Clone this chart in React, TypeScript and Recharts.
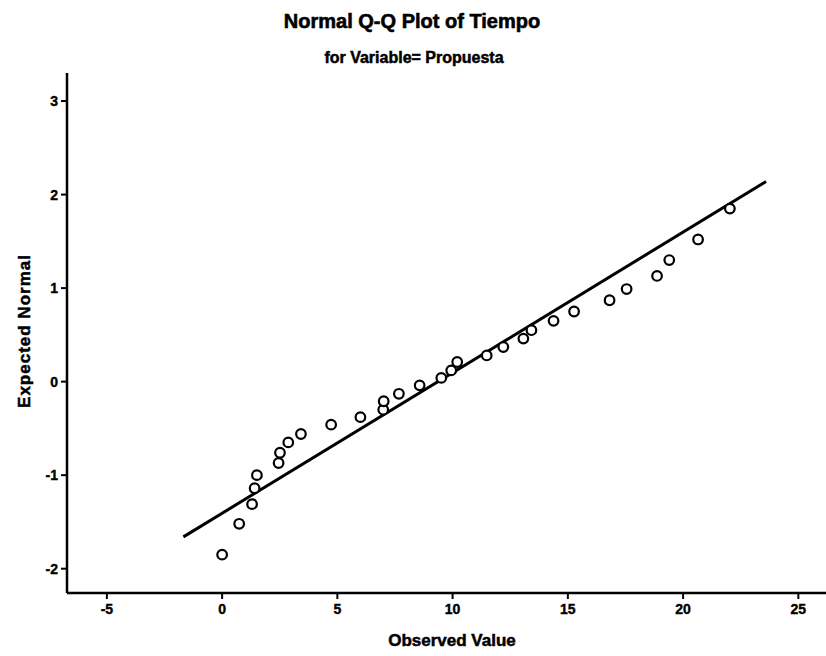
import React from 'react';
import { ScatterChart, Scatter, XAxis, YAxis } from 'recharts';

// observed values (x) and expected normal quantiles (y)
const observed = [
  0, 0.74, 1.3, 1.41, 1.51, 2.45, 2.51, 2.87, 3.42, 4.73, 6.0, 6.99, 7.01, 7.67, 8.57,
  9.51, 9.94, 10.2, 11.48, 12.2, 13.07, 13.42, 14.38, 15.27, 16.81, 17.55, 18.87, 19.4, 20.65, 22.03,
];
const expected = [
  -1.85, -1.52, -1.31, -1.14, -1.0, -0.87, -0.76, -0.65, -0.56, -0.46, -0.38, -0.3, -0.21, -0.13, -0.04,
  0.04, 0.12, 0.21, 0.28, 0.37, 0.46, 0.55, 0.65, 0.75, 0.87, 0.99, 1.13, 1.3, 1.52, 1.85,
];

// reference line end points
const lineX = [-1.68, 23.6];
const lineY = [-1.66, 2.14];

const xTicks = [-5, 0, 5, 10, 15, 20, 25];
const yTicks = [-2, -1, 0, 1, 2, 3];

const points = observed.map((x, i) => ({ x, y: expected[i] }));
const fitLine = lineX.map((x, i) => ({ x, y: lineY[i] }));

const FONT = '"Liberation Sans", Arial, sans-serif';

const tickStyle = {
  fill: '#000',
  stroke: '#000',
  strokeWidth: 0.4,
  fontSize: 14,
  fontWeight: 700,
  fontFamily: FONT,
};

const OpenCircle = (props: any) => {
  const { cx, cy } = props;
  if (cx == null || cy == null) return <g />;
  return <circle cx={cx} cy={cy} r={4.8} fill="#fff" stroke="#000" strokeWidth={2.2} />;
};

const NoDot = () => <g />;

const App = () => {
  return (
    <div style={{ position: 'absolute', left: 0, top: 0, width: 826, height: 656, background: '#fff' }}>
      <ScatterChart width={826} height={656} margin={{ top: 73, right: 0, bottom: 0, left: 0 }}>
        <XAxis
          xAxisId="top"
          orientation="top"
          type="number"
          dataKey="x"
          domain={[-6.73, 26.2]}
          allowDataOverflow
          height={0}
          tick={false}
          tickLine={false}
          axisLine={{ stroke: '#000', strokeWidth: 2 }}
        />
        <XAxis
          type="number"
          dataKey="x"
          domain={[-6.73, 26.2]}
          ticks={xTicks}
          allowDataOverflow
          height={63}
          tick={tickStyle}
          tickSize={6}
          tickMargin={5}
          tickLine={{ stroke: '#000', strokeWidth: 2 }}
          axisLine={{ stroke: '#000', strokeWidth: 2.5 }}
        />
        <YAxis
          type="number"
          dataKey="y"
          domain={[-2.26, 3.3]}
          ticks={yTicks}
          allowDataOverflow
          width={67}
          tick={tickStyle}
          tickSize={6}
          tickMargin={3}
          tickLine={{ stroke: '#000', strokeWidth: 2 }}
          axisLine={{ stroke: '#000', strokeWidth: 2.5 }}
        />
        <Scatter
          data={fitLine}
          line={{ stroke: '#000', strokeWidth: 3 }}
          shape={NoDot}
          isAnimationActive={false}
        />
        <Scatter data={points} shape={OpenCircle} isAnimationActive={false} />
      </ScatterChart>
      <svg
        width={826}
        height={656}
        style={{ position: 'absolute', left: 0, top: 0, pointerEvents: 'none' }}
      >
        <text x={412} y={28} textAnchor="middle" fontFamily={FONT} fontWeight={700} fontSize={20} stroke="#000" strokeWidth={0.6}>
          Normal Q-Q Plot of Tiempo
        </text>
        <text x={414} y={63} textAnchor="middle" fontFamily={FONT} fontWeight={700} fontSize={16} stroke="#000" strokeWidth={0.5}>
          for Variable= Propuesta
        </text>
        <text x={452} y={646} textAnchor="middle" fontFamily={FONT} fontWeight={700} fontSize={17} stroke="#000" strokeWidth={0.5}>
          Observed Value
        </text>
        <text
          x={0}
          y={0}
          transform="translate(30, 331) rotate(-90)"
          textAnchor="middle"
          fontFamily={FONT}
          fontWeight={700}
          fontSize={17}
          letterSpacing={1}
          stroke="#000"
          strokeWidth={0.5}
        >
          Expected Normal
        </text>
      </svg>
    </div>
  );
};

export default App;
